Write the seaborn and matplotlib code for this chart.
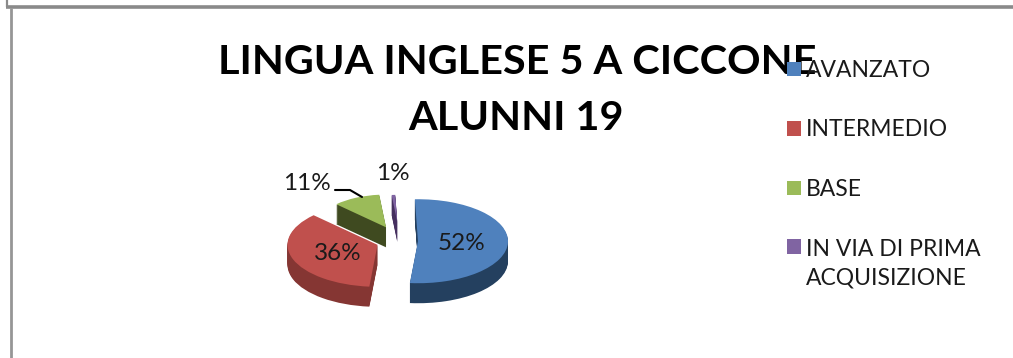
import matplotlib
matplotlib.use("Agg")
import matplotlib.pyplot as plt
from matplotlib.patches import Patch
import seaborn as sns

categories = ["AVANZATO", "INTERMEDIO", "BASE", "IN VIA DI PRIMA\nACQUISIZIONE"]
shares = [52, 36, 11, 1]
title_text = "LINGUA INGLESE 5 A CICCONE\nALUNNI 19"

sns.set_theme(style="white")
plt.rcParams["font.family"] = ["Lato", "DejaVu Sans"]

top_colors = ["#4F81BD", "#C0504D", "#9BBB59", "#8064A2"]
side_dark = ["#24405F", "#853633", "#3F4A20", "#46305F"]
explode = [0.2, 0.266, 0.36, 0.45]
radius_scale = [1.0, 1.0, 0.78, 0.65]

W, H = 1013, 358
RX, RY = 90, 42
CX, CY = 400, 241
DEPTH = 20

fig = plt.figure(figsize=(W / 100, H / 100), dpi=100, facecolor="white")

# pie axes: one data unit = pie radius, squashed to look tilted
pie_ax = fig.add_axes([0, 0, 1, 1])
cx, cy = CX / RX, (H - CY) / RY
for d in range(DEPTH, -1, -1):
    layer_colors = top_colors if d == 0 else side_dark
    wedges, _ = pie_ax.pie(shares, colors=layer_colors, explode=explode, startangle=92,
                           counterclock=False, center=(cx, cy - d / RY), radius=1,
                           wedgeprops={"linewidth": 0}, frame=False)
    for w, k in zip(wedges, radius_scale):
        w.set_radius(k)
pie_ax.set_aspect("auto")
pie_ax.set_xlim(0, W / RX)
pie_ax.set_ylim(0, H / RY)
pie_ax.axis("off")

# overlay axes in pixel units for text and frame
ov = fig.add_axes([0, 0, 1, 1], facecolor="none")
ov.set_xlim(0, W)
ov.set_ylim(H, 0)
ov.axis("off")

ov.plot([7, 7], [0, 7], color="#8a8a8a", lw=1.6, solid_capstyle="butt")
ov.plot([6, W], [6.5, 6.5], color="#8a8a8a", lw=2.6, solid_capstyle="butt")
ov.plot([10.5, 10.5], [8, H], color="#969696", lw=2.0, solid_capstyle="butt")

ov.text(517, 62, title_text.split("\n")[0], ha="center", va="center",
        fontsize=29.8, fontweight="bold", color="black")
ov.text(516, 118, title_text.split("\n")[1], ha="center", va="center",
        fontsize=29.8, fontweight="bold", color="black")

label_pos = [(462, 243), (338, 253), (307, 184), (393, 174)]
for s, (x, y) in zip(shares, label_pos):
    ov.text(x, y, f"{s}%", ha="center", va="center", fontsize=17.5, color="#1a1a1a")
ov.plot([335, 350, 362], [190, 190, 197], color="black", lw=1.5)

handles = [Patch(facecolor=c, edgecolor="none") for c in top_colors]
leg = ov.legend(handles, categories, loc="upper left",
                bbox_to_anchor=(787 / W, 1 - 60 / H), frameon=False,
                fontsize=16.5, labelspacing=1.68, handlelength=0.62,
                handleheight=0.62, handletextpad=0.2, labelcolor="#1a1a1a",
                borderpad=0, borderaxespad=0, alignment="left")
for t in leg.get_texts():
    t.set_linespacing(1.5)
# two-line entry: the swatch sits beside its first line
last = leg.legend_handles[3]
last.set_y(last.get_y() + 13)

fig.savefig("out.png", dpi=100, facecolor="white")
